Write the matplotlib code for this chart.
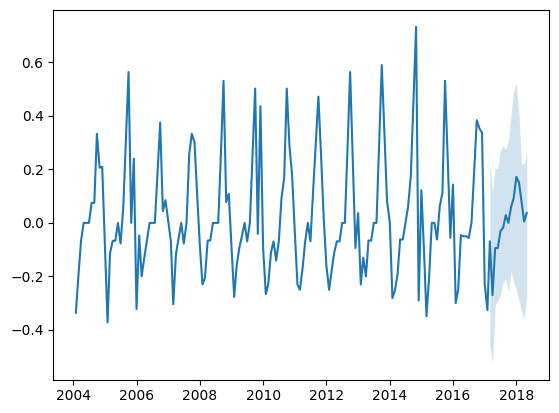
import matplotlib
matplotlib.use("Agg")
import matplotlib.pyplot as plt
import numpy as np
import pandas as pd

# serie mensual (fin de mes), ene 2004 - abr 2018
start = "2004-01-31"
values = [
    -0.336, -0.20, -0.067, 0.0, 0.0, 0.0, 0.075, 0.075, 0.333, 0.206, 0.21, -0.08,
    -0.372, -0.114, -0.067, -0.067, 0.0, -0.077, 0.056, 0.31, 0.564, 0.0, 0.24, -0.322,
    -0.047, -0.20, -0.13, -0.067, 0.0, 0.0, 0.0, 0.19, 0.375, 0.044, 0.085, 0.01,
    -0.067, -0.304, -0.117, -0.06, 0.0, -0.077, 0.0, 0.256, 0.333, 0.302, 0.11, -0.08,
    -0.23, -0.205, -0.066, -0.066, 0.0, 0.0, 0.0, 0.26, 0.531, 0.078, 0.109, -0.09,
    -0.277, -0.162, -0.094, -0.05, 0.0, -0.069, 0.0, 0.25, 0.502, -0.041, 0.436, -0.094,
    -0.266, -0.23, -0.112, -0.069, -0.141, -0.069, 0.093, 0.168, 0.502, 0.287, 0.18, -0.03,
    -0.23, -0.25, -0.17, -0.07, 0.0, -0.069, 0.12, 0.30, 0.472, 0.25, 0.019, -0.16,
    -0.25, -0.18, -0.11, -0.069, -0.069, 0.0, 0.0, 0.28, 0.564, 0.23, -0.094, 0.037,
    -0.23, -0.13, -0.20, -0.066, -0.066, 0.0, 0.0, 0.30, 0.59, 0.33, 0.081, 0.006,
    -0.281, -0.253, -0.193, -0.062, -0.062, 0.0, 0.062, 0.175, 0.45, 0.733, -0.29, 0.122,
    -0.11, -0.349, -0.20, 0.0, 0.0, -0.062, 0.062, 0.112, 0.531, 0.24, -0.056, 0.143,
    -0.30, -0.249, -0.046, -0.05, -0.05, -0.056, 0.0, 0.19, 0.384, 0.353, 0.337, -0.23,
    -0.326, -0.069, -0.27, -0.094, -0.094, -0.031, -0.018, 0.029, 0.0, 0.059, 0.092, 0.172,
    0.15, 0.08, 0.005, 0.037,
]

# intervalo de confianza del pronóstico (feb 2017 - abr 2018)
ci_start = "2017-02-28"
ci_lower = [-0.46, -0.523, -0.31, -0.29, -0.27, -0.22, -0.21, -0.255,
            -0.18, -0.22, -0.25, -0.29, -0.33, -0.36, -0.27]
ci_upper = [0.232, 0.107, 0.207, 0.20, 0.27, 0.288, 0.272, 0.307,
            0.408, 0.494, 0.522, 0.40, 0.22, 0.22, 0.263]

dates = pd.date_range(start, periods=len(values), freq="ME")
ci_dates = pd.date_range(ci_start, periods=len(ci_lower), freq="ME")

fig = plt.figure(figsize=(5.59, 4.13), dpi=100)
ax = fig.add_axes([53.3 / 559, 33.4 / 413, 496 / 559, 369.6 / 413])

ax.plot(dates, values, color="#1f77b4", linewidth=1.5)
ax.fill_between(ci_dates, ci_lower, ci_upper, color="#1f77b4", alpha=0.2, linewidth=0)

fig.savefig("out.png", dpi=100)
